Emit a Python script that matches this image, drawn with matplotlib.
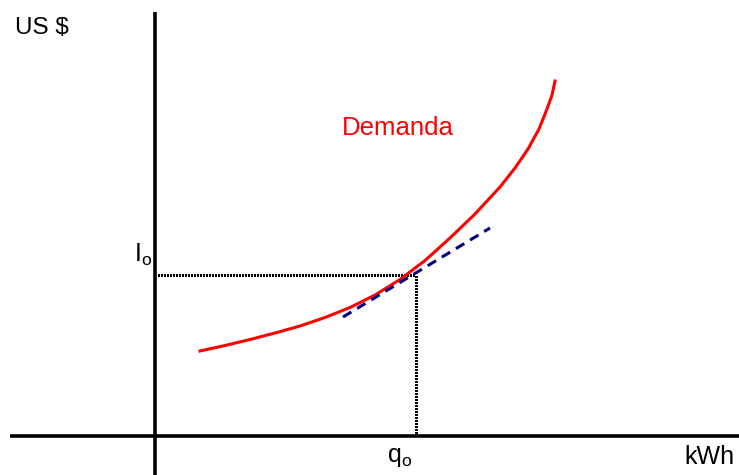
import matplotlib
matplotlib.use("Agg")
import matplotlib.pyplot as plt

plt.rcParams['font.family'] = ['Liberation Sans', 'DejaVu Sans']

# curva de demanda (kWh, US $)
demand_q = [45, 70, 95, 120, 145, 170, 195, 220, 245, 270, 295, 320,
            345, 360, 373, 384, 392, 397, 400]
demand_p = [85, 90.5, 96.5, 103, 110, 118.5, 128.5, 141, 156.5, 175.5, 198, 222,
            249, 268, 287, 307, 327, 341, 355]

# tangente en el punto (q0, I0)
tangent_q = [188, 335]
tangent_p = [119, 208]

q0 = 261
I0 = 161

fig = plt.figure(figsize=(7.39, 4.75), dpi=100)
ax = fig.add_axes([0, 0, 1, 1])
ax.set_xlim(-155, 584)
ax.set_ylim(-39, 436)
ax.axis('off')

# ejes
ax.plot([0, 0], [-39, 424], color='black', lw=2.6, solid_capstyle='butt')
ax.plot([-145, 584], [0, 0], color='black', lw=2.6, solid_capstyle='butt')

# lineas punteadas (sin antialias para que queden negras)
ax.plot([3, q0], [I0, I0], color='black', lw=2.1, linestyle=(0, (0.36, 0.36)),
        antialiased=False)
ax.plot([q0, q0], [0, I0], color='black', lw=2.1, linestyle=(0, (0.36, 0.36)),
        antialiased=False)

ax.plot(demand_q, demand_p, color='red', lw=2.2, solid_joinstyle='round')
ax.plot(tangent_q, tangent_p, color='#000080', lw=2.2, linestyle=(0, (3.2, 2.2)))

ax.text(-140, 408, 'US $', fontsize=17.5, ha='left', va='center')
ax.text(243, 308, 'Demanda', fontsize=18.5, color='red', ha='center', va='center')
ax.text(-3, 181, r'$\mathregular{I_o}$', fontsize=18, ha='right', va='center')
ax.text(245, -21, r'$\mathregular{q_o}$', fontsize=18, ha='center', va='center')
ax.text(580, -21, 'kWh', fontsize=18, ha='right', va='center')

fig.savefig('out.png', dpi=100)
